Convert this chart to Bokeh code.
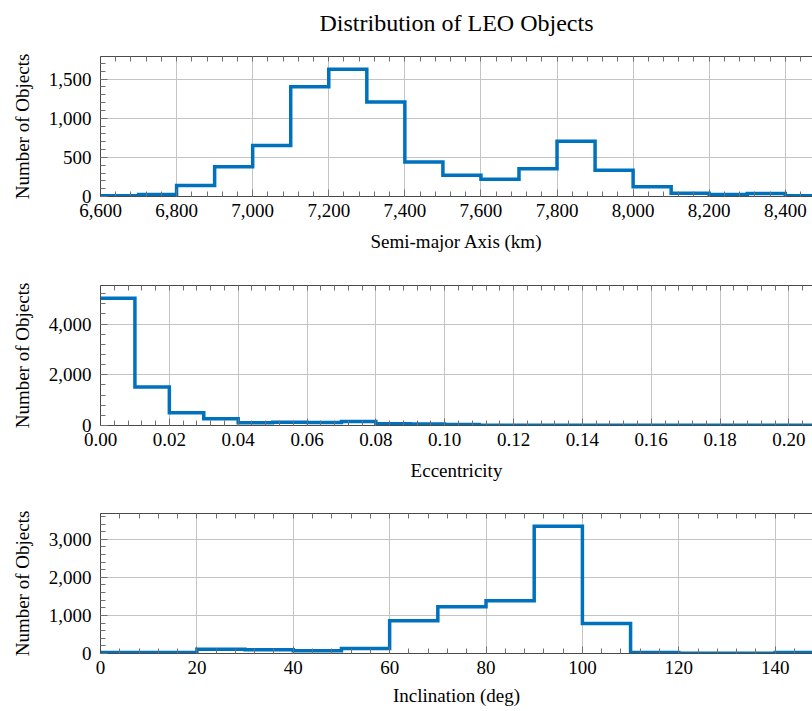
import numpy as np
from bokeh.plotting import figure
from bokeh.layouts import column
from bokeh.models import (Range1d, SingleIntervalTicker, FixedTicker,
                          NumeralTickFormatter, LinearAxis, Grid)
from bokeh.embed import file_html
from bokeh.resources import INLINE

# ---------------- data ----------------
title_text = "Distribution of LEO Objects"

sma_edges = [6600, 6700, 6800, 6900, 7000, 7100, 7200, 7300, 7400, 7500, 7600,
             7700, 7800, 7900, 8000, 8100, 8200, 8300, 8400, 8500]
sma_counts = [10, 25, 140, 380, 650, 1400, 1625, 1205, 440, 270, 220, 355,
              707, 335, 125, 42, 25, 38, 8]

ecc_edges = [0.00, 0.01, 0.02, 0.03, 0.04, 0.05, 0.06, 0.07, 0.08, 0.09, 0.10,
             0.11, 0.12, 0.13, 0.14, 0.15, 0.16, 0.17, 0.18, 0.19, 0.20, 0.21]
ecc_counts = [5020, 1520, 505, 265, 105, 125, 120, 160, 66, 62, 40,
              14, 12, 10, 10, 10, 8, 8, 8, 8, 8]

inc_edges = [0, 10, 20, 30, 40, 50, 60, 70, 80, 90, 100, 110, 120, 130, 140, 150]
inc_counts = [26, 26, 114, 96, 70, 131, 860, 1225, 1385, 3342, 785, 26, 9, 9, 26]

x_labels = ["Semi-major Axis (km)", "Eccentricity", "Inclination (deg)"]
y_label = "Number of Objects"

# ---------------- style ----------------
FONT = "Liberation Serif"
BLUE = "#0072bd"
GRID = "#c4c4c4"
AXC = "#4a4a4a"
TICKC = "#707070"
VISIBLE = 0.985   # fraction of the full x-extent visible in the window


def style_axis(ax):
    ax.axis_line_color = AXC
    ax.axis_line_width = 1
    ax.major_tick_in = 7
    ax.major_tick_out = 0
    ax.minor_tick_in = 5
    ax.minor_tick_out = 0
    ax.major_tick_line_color = TICKC
    ax.minor_tick_line_color = TICKC
    ax.major_label_text_font = FONT
    ax.major_label_text_color = "black"
    ax.major_label_text_font_size = "19px"
    ax.axis_label_text_font = FONT
    ax.axis_label_text_font_style = "normal"
    ax.axis_label_text_color = "black"
    ax.axis_label_text_font_size = "19px"


def make_panel(edges, counts, xinterval, xfmt, yinterval, xlabel,
               border_top, border_bottom, label_standoff=11):
    lo, hi = edges[0], edges[-1]
    xend = lo + (hi - lo) * VISIBLE
    ymax = max(counts) * 1.1
    p = figure(width=812, height=border_top + 140 + border_bottom,
               output_backend="svg", toolbar_location=None,
               x_range=Range1d(lo, xend), y_range=Range1d(0, ymax),
               min_border_left=100, min_border_right=0,
               min_border_top=border_top, min_border_bottom=border_bottom,
               x_axis_type=None, y_axis_type=None)
    p.outline_line_color = None
    p.background_fill_color = "white"
    p.border_fill_color = "white"

    xt = SingleIntervalTicker(interval=xinterval, num_minor_ticks=5)
    yt = SingleIntervalTicker(interval=yinterval, num_minor_ticks=5)

    p.add_layout(Grid(dimension=0, ticker=xt, grid_line_color=GRID,
                      grid_line_width=1))
    p.add_layout(Grid(dimension=1, ticker=yt, grid_line_color=GRID,
                      grid_line_width=1))

    xb = LinearAxis(ticker=xt, formatter=NumeralTickFormatter(format=xfmt),
                    axis_label=xlabel)
    style_axis(xb)
    xb.major_label_standoff = 7
    xb.axis_label_standoff = label_standoff
    p.add_layout(xb, "below")

    yl = LinearAxis(ticker=yt, formatter=NumeralTickFormatter(format="0,0"),
                    axis_label=y_label)
    style_axis(yl)
    yl.major_label_standoff = 9
    yl.axis_label_standoff = 13
    p.add_layout(yl, "left")

    # top frame edge with inward ticks only (no labels)
    step = xinterval / 5.0
    top_ticks = list(np.round(np.arange(lo, xend + step * 0.5, step), 6))
    xtop = LinearAxis(ticker=FixedTicker(ticks=[], minor_ticks=top_ticks))
    style_axis(xtop)
    xtop.major_label_standoff = 0
    p.add_layout(xtop, "above")

    p.step(x=edges, y=list(counts) + [counts[-1]], mode="after",
           line_color=BLUE, line_width=3.5, line_join="miter")
    return p


# title strip (an empty plot that only carries the centred title)
pt = figure(width=812, height=48, output_backend="svg", toolbar_location=None,
            x_axis_type=None, y_axis_type=None,
            min_border_left=100, min_border_right=0,
            min_border_top=0, min_border_bottom=0)
pt.outline_line_color = None
pt.xgrid.visible = False
pt.ygrid.visible = False
pt.title.text = title_text
pt.title.align = "center"
pt.title.text_font = FONT
pt.title.text_font_size = "24px"
pt.title.text_font_style = "normal"
pt.title.text_color = "black"
pt.title.standoff = 14

p1 = make_panel(sma_edges, sma_counts, 200, "0,0", 500, x_labels[0], 8, 60)
p2 = make_panel(ecc_edges, ecc_counts, 0.02, "0.00", 2000, x_labels[1], 29, 60)
p3 = make_panel(inc_edges, inc_counts, 20, "0", 1000, x_labels[2], 28, 57,
                label_standoff=8)

layout = column(pt, p1, p2, p3, spacing=0)
open("out.html", "w").write(file_html(layout, INLINE))
